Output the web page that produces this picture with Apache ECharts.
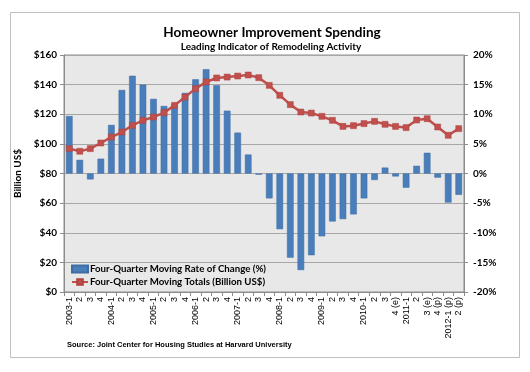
<!DOCTYPE html>
<html>
<head>
<meta charset="utf-8">
<script src="https://cdn.jsdelivr.net/npm/echarts@6/dist/echarts.min.js"></script>
<style>html,body{margin:0;padding:0;background:#fff}#c{width:530px;height:372px}</style>
</head>
<body>
<div id="c"></div>
<script>
var categories = ['2003-1','2','3','4','2004-1','2','3','4','2005-1','2','3','4','2006-1','2','3','4','2007-1','2','3','4','2008-1','2','3','4','2009-1','2','3','4','2010-1','2','3','4 (e)','2011-1','2','3 (e)','4 (p)','2012-1 (p)','2 (p)'];
var rateOfChange = [9.7, 2.3, -1.0, 2.5, 8.2, 14.1, 16.5, 15.0, 12.6, 11.4, 11.7, 13.6, 15.9, 17.6, 14.9, 10.6, 6.9, 3.2, -0.2, -4.2, -9.4, -14.2, -16.3, -13.8, -10.6, -8.1, -7.7, -6.9, -4.2, -1.1, 1.0, -0.5, -2.4, 1.3, 3.5, -0.7, -4.9, -3.6];
var movingTotals = [96.8, 95.0, 96.8, 100.6, 104.6, 108.0, 112.5, 115.9, 118.1, 121.1, 126.0, 131.6, 137.3, 141.8, 144.5, 145.1, 145.8, 146.5, 144.7, 139.5, 132.8, 126.5, 121.5, 120.8, 118.6, 115.9, 111.8, 112.3, 113.7, 115.2, 113.2, 111.8, 111.0, 116.1, 117.0, 111.4, 105.8, 110.3];
var leftTicks = {min: 0, max: 160, interval: 20};
var rightTicks = {min: -20, max: 20, interval: 5};

var font = 'Lato, "Open Sans", sans-serif';
var chart = echarts.init(document.getElementById('c'), null, {renderer: 'canvas'});
chart.setOption({
  animation: false,
  backgroundColor: '#fff',
  title: [
    {text: 'Homeowner Improvement Spending', left: 267, top: 21, textAlign: 'center',
     textStyle: {fontFamily: font, fontWeight: 'bold', fontSize: 13.5, color: '#000'}},
    {text: 'Leading Indicator of Remodeling Activity', left: 266, top: 37, textAlign: 'center',
     textStyle: {fontFamily: font, fontWeight: 'bold', fontSize: 10, color: '#000'}}
  ],
  graphic: [
    {type: 'rect', shape: {x: 10.5, y: 12.5, width: 509, height: 345}, style: {fill: 'none', stroke: '#bfbfbf', lineWidth: 1}, z: -1},
    {type: 'text', left: 67, top: 341, style: {text: 'Source: Joint Center for Housing Studies at Harvard University', font: 'bold 7.5px "Liberation Sans", Arial, sans-serif', fill: '#000'}}
  ],
  grid: {left: 64, right: 66, top: 55, bottom: 80, show: true, backgroundColor: '#e8e8e8', borderColor: '#8c8c8c', borderWidth: 1},
  legend: {
    orient: 'vertical', left: 71, top: 264, itemWidth: 16, itemHeight: 7, itemGap: 3, padding: 0,
    textStyle: {fontFamily: font, fontWeight: 'bold', fontSize: 9.7, color: '#000', padding: [0,0,0,-3]},
    data: [
      {name: 'Four-Quarter Moving Rate of Change (%)', icon: 'rect'},
      {name: 'Four-Quarter Moving Totals (Billion US$)'}
    ]
  },
  xAxis: {
    type: 'category', data: categories, boundaryGap: true,
    axisLine: {lineStyle: {color: '#8c8c8c'}},
    axisTick: {show: true, interval: 0, length: 4, lineStyle: {color: '#8c8c8c'}},
    axisLabel: {interval: 0, rotate: 90, margin: 5, fontSize: 9, color: '#000', fontFamily: '"Liberation Sans", Arial, sans-serif'}
  },
  yAxis: [
    {type: 'value', min: leftTicks.min, max: leftTicks.max, interval: leftTicks.interval,
     name: 'Billion US$', nameLocation: 'middle', nameGap: 36, nameRotate: 90,
     nameTextStyle: {fontFamily: font, fontWeight: 'bold', fontSize: 10, color: '#000'},
     axisLine: {show: true, lineStyle: {color: '#8c8c8c'}},
     axisTick: {show: true, length: 4, lineStyle: {color: '#8c8c8c'}},
     axisLabel: {formatter: '${value}', margin: 7, fontFamily: font, fontWeight: 'bold', fontSize: 10, color: '#000'},
     splitLine: {show: true, lineStyle: {color: '#a6a6a6', width: 1}}},
    {type: 'value', min: rightTicks.min, max: rightTicks.max, interval: rightTicks.interval, position: 'right',
     axisLine: {show: true, lineStyle: {color: '#8c8c8c'}},
     axisTick: {show: true, length: 4, lineStyle: {color: '#8c8c8c'}},
     axisLabel: {formatter: '{value}%', margin: 9, fontFamily: font, fontWeight: 'bold', fontSize: 10, color: '#000'},
     splitLine: {show: false}}
  ],
  series: [
    {name: 'Four-Quarter Moving Rate of Change (%)', type: 'bar', yAxisIndex: 1, data: rateOfChange,
     barCategoryGap: '37%', itemStyle: {color: '#4a7ebb', borderColor: '#3d6ca3', borderWidth: 0.5}},
    {name: 'Four-Quarter Moving Totals (Billion US$)', type: 'line', yAxisIndex: 0, data: movingTotals,
     symbol: 'rect', symbolSize: 6, lineStyle: {color: '#c0504d', width: 2.5},
     itemStyle: {color: '#c0504d', borderColor: '#b0403d', borderWidth: 0.5}}
  ]
});
</script>
</body>
</html>
